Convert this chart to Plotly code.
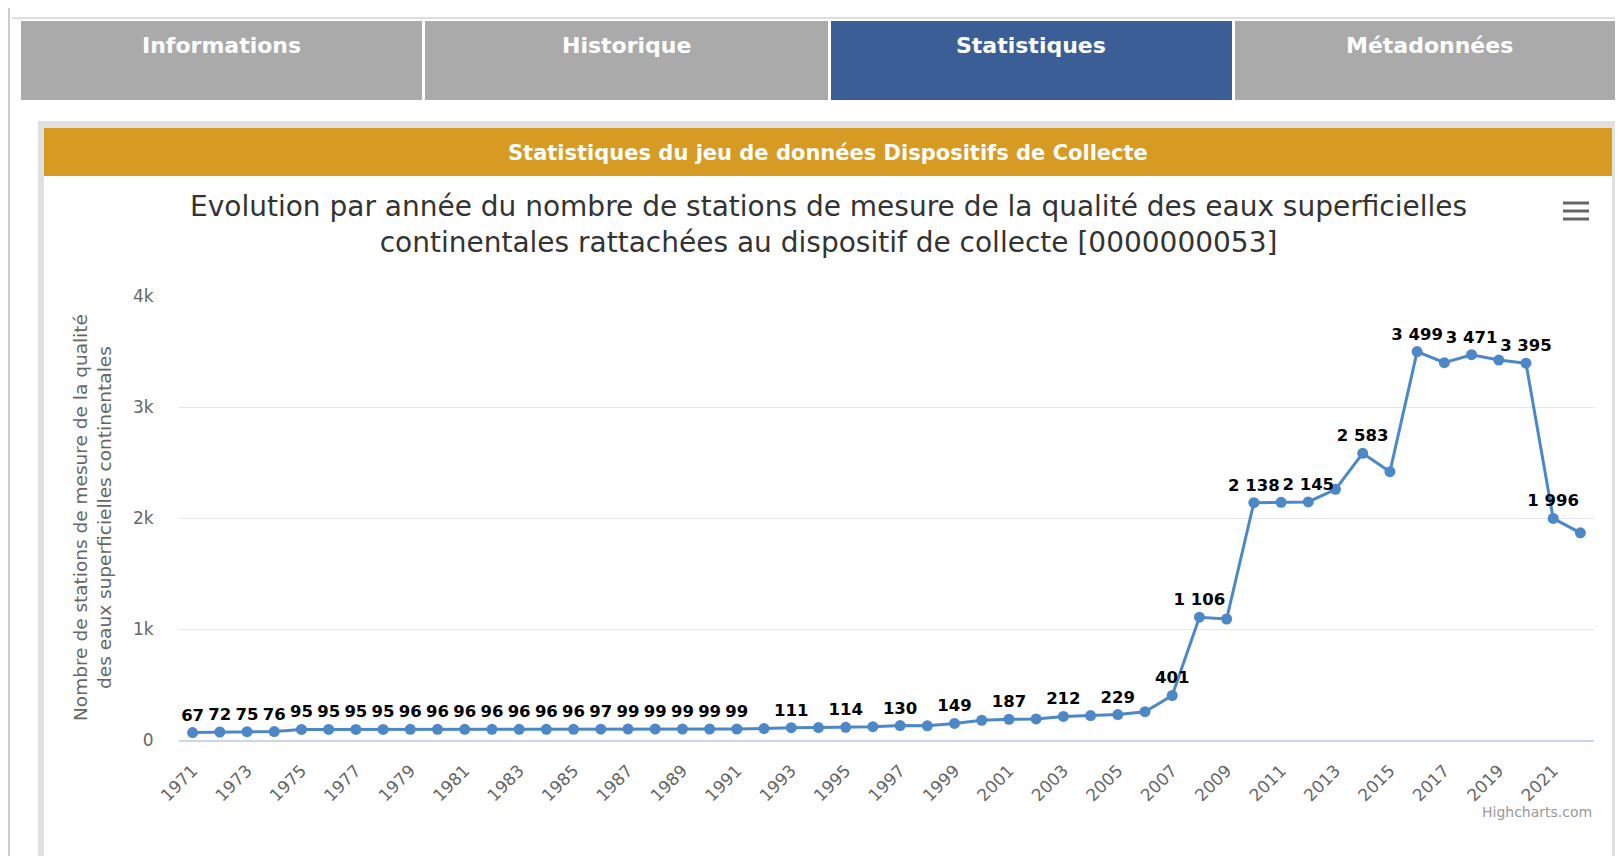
import plotly.graph_objects as go

# ---------------- data ----------------
years = [1971, 1972, 1973, 1974, 1975, 1976, 1977, 1978, 1979, 1980,
         1981, 1982, 1983, 1984, 1985, 1986, 1987, 1988, 1989, 1990,
         1991, 1992, 1993, 1994, 1995, 1996, 1997, 1998, 1999, 2000,
         2001, 2002, 2003, 2004, 2005, 2006, 2007, 2008, 2009, 2010,
         2011, 2012, 2013, 2014, 2015, 2016, 2017, 2018, 2019, 2020,
         2021, 2022]
stations = [67, 72, 75, 76, 95, 95, 95, 95, 96, 96,
            96, 96, 96, 96, 96, 97, 99, 99, 99, 99,
            99, 103, 111, 112, 114, 120, 130, 128, 149, 178,
            187, 190, 212, 220, 229, 255, 401, 1106, 1090, 2138,
            2141, 2145, 2258, 2583, 2417, 3499, 3399, 3471, 3423, 3395,
            1996, 1866]
# years whose data label is hidden (overlap) in the original
hidden_labels = [1992, 1994, 1996, 1998, 2000, 2002, 2004, 2006,
                 2009, 2011, 2013, 2015, 2017, 2019, 2022]
x_tick_years = [1971, 1973, 1975, 1977, 1979, 1981, 1983, 1985, 1987, 1989,
                1991, 1993, 1995, 1997, 1999, 2001, 2003, 2005, 2007, 2009,
                2011, 2013, 2015, 2017, 2019, 2021]
y_ticks = [0, 1000, 2000, 3000, 4000]
y_tick_labels = ["0", "1k", "2k", "3k", "4k"]
tabs = ["Informations", "Historique", "Statistiques", "Métadonnées"]
panel_title = "Statistiques du jeu de données Dispositifs de Collecte"
chart_title = ("Evolution par année du nombre de stations de mesure de la qualité des eaux superficielles"
               "<br>continentales rattachées au dispositif de collecte [0000000053]")
y_title = "Nombre de stations de mesure de la qualité<br>des eaux superficielles continentales"

# ---------------- layout helpers ----------------
W, H = 1623, 856          # browser window
M = 8                     # default body margin of the html page
FW, FH = W - M, H - M     # figure reaches the right / bottom window edge


def px(x):
    return (x - M) / FW


def py(y):
    return 1 - (y - M) / FH


FONT = "DejaVu Sans"
labels = ["" if yr in hidden_labels else f"{v:,}".replace(",", " ")
          for yr, v in zip(years, stations)]
cats = [str(y) for y in years]

fig = go.Figure()
fig.add_trace(go.Scatter(
    x=cats, y=stations, mode="lines+markers+text",
    text=labels, textposition="top center",
    textfont=dict(family=FONT, size=16.5, color="#000000", weight="bold"),
    line=dict(color="#4C88C8", width=3),
    marker=dict(color="#4C88C8", size=11),
    hoverinfo="x+y", showlegend=False, cliponaxis=False,
))

shapes = []
# page left border
shapes.append(dict(type="line", xref="paper", yref="paper",
                   x0=px(9), x1=px(9), y0=py(M), y1=py(H),
                   line=dict(color="#cccccc", width=2), layer="below"))
# tab top border
shapes.append(dict(type="line", xref="paper", yref="paper",
                   x0=px(12), x1=px(W), y0=py(18), y1=py(18),
                   line=dict(color="#dddddd", width=2), layer="below"))
tab_edges = [(21, 422), (425, 828), (831, 1232), (1235, 1623)]
annotations = []
for i, (a, b) in enumerate(tab_edges):
    color = "#3B5E96" if tabs[i] == "Statistiques" else "#AAAAAA"
    shapes.append(dict(type="rect", xref="paper", yref="paper",
                       x0=px(a), x1=px(b), y0=py(100), y1=py(21),
                       fillcolor=color, line=dict(width=0), layer="below"))
    annotations.append(dict(text=tabs[i], xref="paper", yref="paper",
                            x=px((a + b) / 2), y=py(45), showarrow=False,
                            xanchor="center", yanchor="middle",
                            font=dict(family=FONT, size=22, color="white", weight="bold")))
# panel frame
shapes.append(dict(type="rect", xref="paper", yref="paper",
                   x0=px(38), x1=px(1618), y0=py(H + 20), y1=py(121),
                   fillcolor="#E0E0E0", line=dict(width=0), layer="below"))
shapes.append(dict(type="rect", xref="paper", yref="paper",
                   x0=px(44), x1=px(1612), y0=py(H + 20), y1=py(128),
                   fillcolor="white", line=dict(width=0), layer="below"))
shapes.append(dict(type="rect", xref="paper", yref="paper",
                   x0=px(44), x1=px(1612), y0=py(176), y1=py(128),
                   fillcolor="#D79A22", line=dict(width=0), layer="below"))
annotations.append(dict(text=panel_title, xref="paper", yref="paper",
                        x=px(828), y=py(153), showarrow=False,
                        xanchor="center", yanchor="middle",
                        font=dict(family=FONT, size=21, color="white", weight="bold")))
# chart title
annotations.append(dict(text=chart_title, xref="paper", yref="paper",
                        x=px(828), y=py(224), showarrow=False,
                        xanchor="center", yanchor="middle",
                        font=dict(family=FONT, size=28, color="#333333")))
# y axis title
annotations.append(dict(text=y_title, xref="paper", yref="paper",
                        x=px(93), y=py(518), showarrow=False, textangle=-90,
                        xanchor="center", yanchor="middle",
                        font=dict(family=FONT, size=18.5, color="#666666")))
# credits
annotations.append(dict(text="Highcharts.com", xref="paper", yref="paper",
                        x=px(1594), y=py(812), showarrow=False,
                        xanchor="right", yanchor="middle",
                        font=dict(family=FONT, size=14, color="#999999")))
# hamburger menu
for yy in (203, 211, 219):
    shapes.append(dict(type="line", xref="paper", yref="paper",
                       x0=px(1563), x1=px(1589), y0=py(yy), y1=py(yy),
                       line=dict(color="#666666", width=3)))

fig.update_layout(
    width=FW, height=FH,
    margin=dict(l=0, r=0, t=0, b=0, pad=0, autoexpand=False),
    paper_bgcolor="white", plot_bgcolor="rgba(0,0,0,0)",
    shapes=shapes, annotations=annotations,
    xaxis=dict(domain=[px(179), px(1594)], type="category",
               range=[-0.5, len(years) - 0.5], automargin=False,
               tickvals=[str(y) for y in x_tick_years],
               ticktext=[str(y) for y in x_tick_years],
               tickangle=-45, ticks="outside", ticklen=12,
               tickcolor="rgba(0,0,0,0)",
               tickfont=dict(family=FONT, size=17, color="#666666"),
               showgrid=False, showline=True, linecolor="#ccd6eb", linewidth=2,
               zeroline=False, fixedrange=True),
    yaxis=dict(domain=[py(740), py(296)], range=[0, 4000], automargin=False,
               tickvals=y_ticks, ticktext=y_tick_labels,
               ticks="outside", ticklen=21, tickcolor="rgba(0,0,0,0)",
               tickfont=dict(family=FONT, size=17, color="#666666"),
               showgrid=True, gridcolor="#e6e6e6", gridwidth=1,
               zeroline=False, showline=False, fixedrange=True),
)

fig.write_html("out.html", config={"displayModeBar": False},
               post_script="document.documentElement.style.overflow='hidden';"
                           "document.body.style.overflow='hidden';")
